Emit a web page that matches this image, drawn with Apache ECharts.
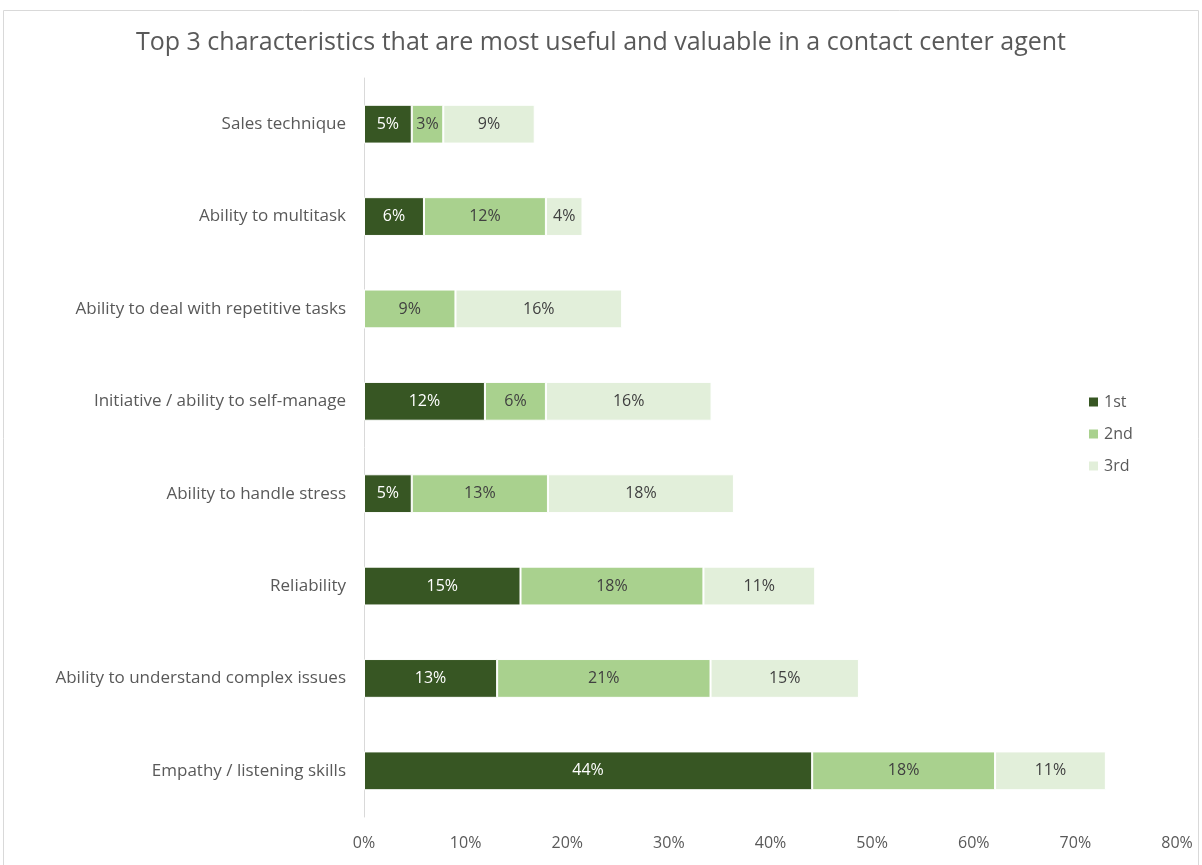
<!DOCTYPE html>
<html>
<head>
<meta charset="utf-8">
<script src="https://cdn.jsdelivr.net/npm/echarts@6/dist/echarts.min.js"></script>
<style>
    html, body { margin: 0; padding: 0; background: #fff; }
    #chart { width: 1202px; height: 865px; }
</style>
</head>
<body>
<div id="chart"></div>
<script>
    // categories, top to bottom
    let categories = [
        'Sales technique',
        'Ability to multitask',
        'Ability to deal with repetitive tasks',
        'Initiative / ability to self-manage',
        'Ability to handle stress',
        'Reliability',
        'Ability to understand complex issues',
        'Empathy / listening skills'
    ];
    let first = [4.7, 5.9, 0, 11.9, 4.7, 15.4, 13.1, 44.1];
    let second = [3.1, 12.0, 9.0, 6.0, 13.4, 18.0, 21.0, 18.0];
    let third = [9.0, 3.6, 16.4, 16.3, 18.3, 11.0, 14.6, 10.9];
    let xTicks = [0, 10, 20, 30, 40, 50, 60, 70, 80];

    let font = '"Open Sans", "Liberation Sans", sans-serif';

    function makeSeries(name, data, color, textColor) {
        return {
            name: name,
            type: 'bar',
            stack: 'total',
            data: data,
            barCategoryGap: '58%',
            itemStyle: {color: color, borderColor: '#ffffff', borderWidth: 1},
            label: {
                show: true,
                color: textColor,
                fontFamily: font,
                fontSize: 16,
                formatter: function (p) {
                    return p.value > 0 ? Math.round(p.value) + '%' : '';
                }
            }
        };
    }

    let myChart = echarts.init(document.getElementById('chart'));
    let option = {
        animation: false,
        title: {
            text: 'Top 3 characteristics that are most useful and valuable in a contact center agent',
            left: 'center',
            top: 25,
            textStyle: {fontSize: 25, fontWeight: 'normal', color: '#595959', fontFamily: font}
        },
        graphic: [{
            type: 'rect',
            shape: {x: 3.5, y: 10.5, width: 1195, height: 870},
            style: {fill: 'none', stroke: '#d9d9d9', lineWidth: 1}
        }],
        legend: {
            orient: 'vertical',
            left: 1082,
            top: 389,
            itemWidth: 11,
            itemHeight: 11,
            itemGap: 16,
            icon: 'rect',
            textStyle: {fontSize: 16, color: '#595959', fontFamily: font}
        },
        grid: {left: 364, right: 25, top: 78, bottom: 48},
        xAxis: {
            type: 'value',
            min: 0,
            max: 80,
            interval: 10,
            axisLine: {show: false},
            axisTick: {show: false},
            splitLine: {show: false},
            axisLabel: {
                fontSize: 16,
                color: '#595959',
                fontFamily: font,
                margin: 18,
                formatter: function (v) {
                    return xTicks.indexOf(v) >= 0 ? v + '%' : '';
                }
            }
        },
        yAxis: {
            type: 'category',
            inverse: true,
            data: categories,
            axisLine: {show: true, lineStyle: {color: '#d9d9d9', width: 1}},
            axisTick: {show: false},
            axisLabel: {fontSize: 17, color: '#595959', fontFamily: font, margin: 18}
        },
        series: [
            makeSeries('1st', first, '#375623', '#ffffff'),
            makeSeries('2nd', second, '#a9d18e', '#404040'),
            makeSeries('3rd', third, '#e2efda', '#404040')
        ]
    };
    myChart.setOption(option);
</script>
</body>
</html>
